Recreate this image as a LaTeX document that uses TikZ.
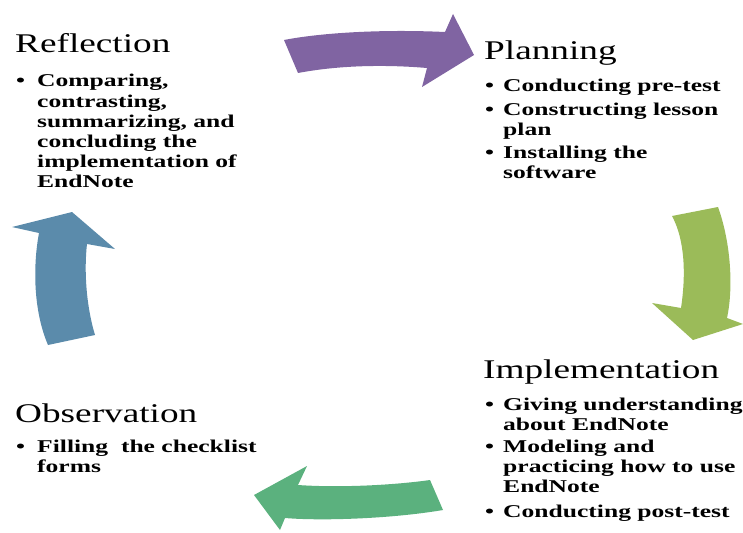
\documentclass[tikz,border=0pt]{standalone}
\usepackage{fontspec}
\setmainfont{Liberation Serif}
\newfontfamily\titlefont[FakeStretch=1.38]{Liberation Serif}
\newfontfamily\bodyfont[FakeStretch=1.42]{Liberation Serif}
\definecolor{cpurple}{HTML}{8064A2}
\definecolor{clime}{HTML}{9BBB59}
\definecolor{cgreen}{HTML}{5BB17E}
\definecolor{cblue}{HTML}{5B8BAB}
\tikzset{
  ttl/.style={anchor=base west, inner sep=0pt, font=\titlefont\fontsize{27}{30}\selectfont},
  itm/.style={anchor=base west, inner sep=0pt, font=\bodyfont\bfseries\fontsize{18}{20}\selectfont}
}
\begin{document}
\begin{tikzpicture}[x=1pt,y=-1pt]
\useasboundingbox (0,0) rectangle (743,532);
% arrows
\fill[cpurple] (284,40) .. controls (320,33) and (380,29) .. (445,32) -- (453,14) -- (474,55) -- (422,87) -- (427,68) .. controls (380,64) and (335,66) .. (298,73) -- cycle;
\fill[clime] (672,216) -- (718,207) .. controls (730,240) and (734,285) .. (727,318) -- (743,324) -- (693,340) -- (652,303) -- (681,308) .. controls (686,275) and (685,240) .. (672,216) -- cycle;
\fill[cgreen] (443,510) -- (430,480) .. controls (395,485) and (340,488) .. (298,485) -- (307,466) -- (254,495) -- (280,530) -- (285,518) .. controls (320,521) and (390,519) .. (443,510) -- cycle;
\fill[cblue] (48,345) -- (95,335) .. controls (86,305) and (84,270) .. (87,244) -- (115,249) -- (72,212) -- (12,227) -- (39,233) .. controls (33,265) and (33,310) .. (48,345) -- cycle;
% Reflection
\node[ttl] (rt) at (15,53) {Reflection};
\node[itm] (rb) at (16,87) {\textbullet};
\node[itm] (r1) at (37,87) {Comparing,};
\node[itm] (r2) at (37,107) {contrasting,};
\node[itm] (r3) at (37,127) {summarizing, and};
\node[itm] (r4) at (37,147) {concluding the};
\node[itm] (r5) at (37,167) {implementation of};
\node[itm] (r6) at (37,187) {EndNote};
% Planning
\node[ttl] (pt) at (484,60) {Planning};
\node[itm] (pb1) at (485,92) {\textbullet};
\node[itm] (p1) at (503,92) {Conducting pre-test};
\node[itm] (pb2) at (485,115) {\textbullet};
\node[itm] (p2) at (503,115) {Constructing lesson};
\node[itm] (p3) at (503,135) {plan};
\node[itm] (pb3) at (485,158) {\textbullet};
\node[itm] (p4) at (503,158) {Installing the};
\node[itm] (p5) at (503,178) {software};
% Implementation
\node[ttl] (it) at (483,378) {Implementation};
\node[itm] (ib1) at (485,410) {\textbullet};
\node[itm] (i1) at (503,410) {Giving understanding};
\node[itm] (i2) at (503,430) {about EndNote};
\node[itm] (ib2) at (485,452) {\textbullet};
\node[itm] (i3) at (503,452) {Modeling and};
\node[itm] (i4) at (503,472) {practicing how to use};
\node[itm] (i5) at (503,492) {EndNote};
\node[itm] (ib3) at (485,517) {\textbullet};
\node[itm] (i6) at (503,517) {Conducting post-test};
% Observation
\node[ttl] (ot) at (15,422) {Observation};
\node[itm] (ob) at (16,452) {\textbullet};
\node[itm] (o1) at (37,452) {Filling\ \ the checklist};
\node[itm] (o2) at (37,472) {forms};
\end{tikzpicture}
\end{document}
